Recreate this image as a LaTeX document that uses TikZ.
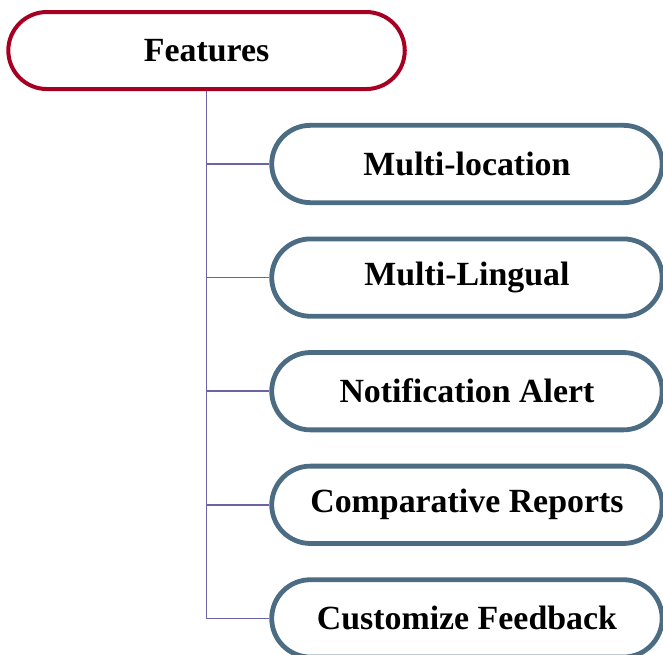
\documentclass[tikz,border=0pt]{standalone}
\usepackage{fontspec}
\setmainfont{Liberation Serif}
\usepackage{xcolor}
\usepackage{tikz}
\usetikzlibrary{shapes.misc, positioning}
\definecolor{rootred}{RGB}{165,0,33}
\definecolor{slateblue}{RGB}{75,108,131}
\definecolor{linkpurple}{RGB}{106,100,166}
\tikzset{
  root/.style={rounded rectangle, draw=rootred, fill=white, line width=3pt,
    minimum width=304pt, minimum height=57.75pt, font=\fontsize{25.4}{29}\selectfont\bfseries},
  feat/.style={rounded rectangle, draw=slateblue, fill=white, line width=3.6pt,
    minimum width=299.5pt, minimum height=58pt, font=\fontsize{25.4}{29}\selectfont\bfseries},
  link/.style={draw=linkpurple, line width=1.1pt}
}
\begin{document}
\begin{tikzpicture}[node distance=23.6pt]
  \useasboundingbox (0,0) rectangle (497.25pt,-491.25pt);
  \node[root] (top) at (154.9pt,-37.9pt) {Features};
  \node[feat] (loc) at (350.2pt,-123pt) {Multi-location};
  \node[feat, below=of loc] (ling) {Multi-Lingual};
  \node[feat, below=of ling] (notif) {Notification Alert};
  \node[feat, below=of notif] (comp) {Comparative Reports};
  \node[feat, below=of comp] (cust) {Customize Feedback};
  \foreach \n in {loc, ling, notif, comp, cust}
    \draw[link] (top.south) |- (\n.west);
\end{tikzpicture}
\end{document}
